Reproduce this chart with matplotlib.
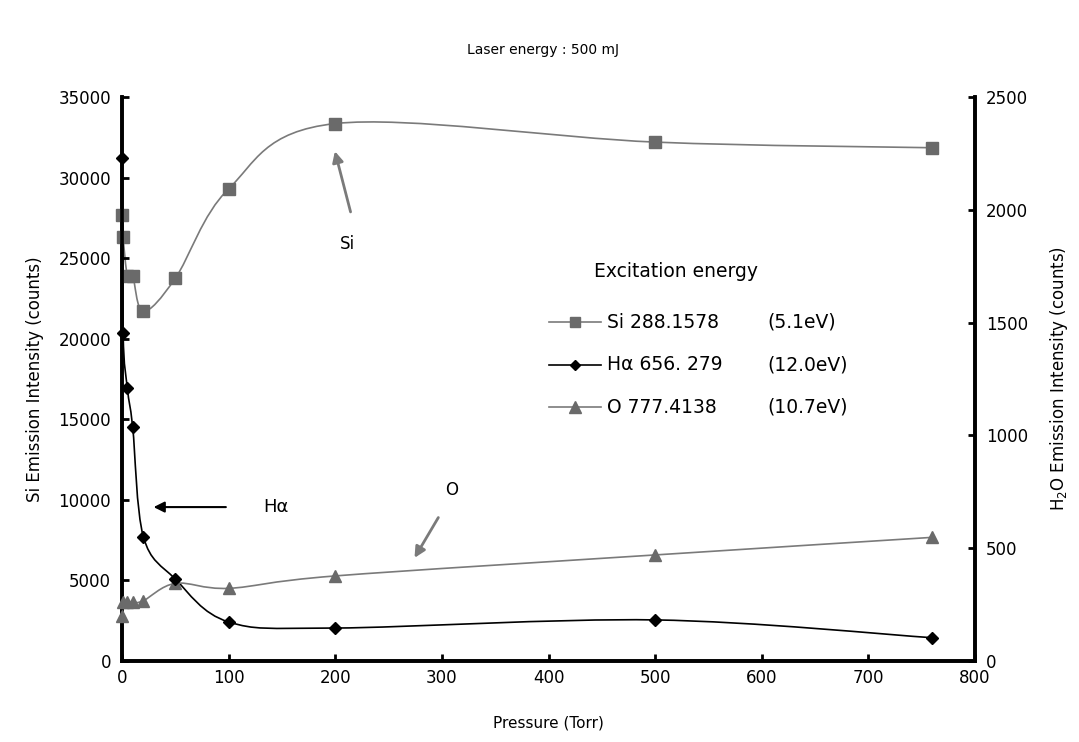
import numpy as np
import matplotlib.pyplot as plt
from matplotlib.path import Path
from matplotlib.patches import PathPatch

plt.rcParams['font.family'] = ['DejaVu Sans']

# pressure (Torr) for each measurement
pressure = [0.1, 1, 5, 10, 20, 50, 100, 200, 500, 760]
si_counts = [27700, 26300, 23900, 23900, 21700, 23750, 29300, 33350, 32200, 31850]
ha_counts = [2230, 1453, 1209, 1036, 551, 363, 173, 146, 182, 103]
o_counts = [199, 262, 263, 260, 267, 344, 322, 377, 470, 548]

x_ticks = [0, 100, 200, 300, 400, 500, 600, 700, 800]
left_ticks = [0, 5000, 10000, 15000, 20000, 25000, 30000, 35000]
right_ticks = [0, 500, 1000, 1500, 2000, 2500]

legend_names = ['Si 288.1578', 'H\u03b1 656. 279', 'O 777.4138']
legend_energy = ['(5.1eV)', '(12.0eV)', '(10.7eV)']

GREY = '#7a7a7a'
MARK_GREY = '#6a6a6a'


def smooth_path(xs, ys):
    # excel-like smoothed line: cubic bezier through every point
    pts = np.column_stack([xs, ys]).astype(float)
    n = len(pts)
    verts = [pts[0]]
    codes = [Path.MOVETO]
    for i in range(n - 1):
        p0 = pts[max(i - 1, 0)]
        p1 = pts[i]
        p2 = pts[i + 1]
        p3 = pts[min(i + 2, n - 1)]
        c1 = p1 + (p2 - p0) / 6.0
        c2 = p2 - (p3 - p1) / 6.0
        verts += [c1, c2, p2]
        codes += [Path.CURVE4] * 3
    return Path(verts, codes)


def main():
    fig = plt.figure(figsize=(10.79, 7.42), dpi=100)
    ax = fig.add_axes([0.1131, 0.1092, 0.7905, 0.7601])
    ax2 = ax.twinx()

    ax.add_patch(PathPatch(smooth_path(pressure, si_counts), fc='none', ec=GREY, lw=1.2))
    ax.plot(pressure, si_counts, ls='none', marker='s', ms=8, color=MARK_GREY, clip_on=False, zorder=4)

    ax2.add_patch(PathPatch(smooth_path(pressure, ha_counts), fc='none', ec='black', lw=1.2))
    ax2.add_patch(PathPatch(smooth_path(pressure, o_counts), fc='none', ec=GREY, lw=1.2))
    ax2.plot(pressure, o_counts, ls='none', marker='^', ms=9, color=MARK_GREY, clip_on=False, zorder=4)
    ax2.plot(pressure, ha_counts, ls='none', marker='D', ms=6.5, color='black', clip_on=False, zorder=5)

    ax.set_xlim(0, 800)
    ax.set_ylim(0, 35000)
    ax2.set_ylim(0, 2500)
    ax.set_xticks(x_ticks)
    ax.set_yticks(left_ticks)
    ax2.set_yticks(right_ticks)

    for a in (ax, ax2):
        a.spines['top'].set_visible(False)
        for s in ('left', 'right', 'bottom'):
            a.spines[s].set_linewidth(2.6)
        a.tick_params(direction='in', length=5, width=2, labelsize=12, pad=8)
    ax.tick_params(axis='x', pad=6)

    ax.set_xlabel('Pressure (Torr)', fontsize=11, labelpad=20)
    ax.set_ylabel('Si Emission Intensity (counts)', fontsize=12, labelpad=10)
    ax2.set_ylabel('H$_2$O Emission Intensity (counts)', fontsize=12, labelpad=14)
    fig.text(0.503, 0.932, 'Laser energy : 500 mJ', ha='center', va='center', fontsize=10)

    # annotations
    ax.annotate('', xy=(199, 31800), xytext=(215, 27700),
                arrowprops=dict(arrowstyle='-|>', color=GREY, lw=2, mutation_scale=16))
    ax.text(211, 25900, 'Si', fontsize=12, ha='center', va='center')
    ax.annotate('', xy=(27, 9550), xytext=(100, 9550),
                arrowprops=dict(arrowstyle='-|>', color='black', lw=1.5, mutation_scale=16))
    ax.text(132, 9550, 'H\u03b1', fontsize=13, ha='left', va='center')
    ax.annotate('', xy=(273, 6250), xytext=(298, 9050),
                arrowprops=dict(arrowstyle='-|>', color=GREY, lw=2, mutation_scale=16))
    ax.text(309, 10600, 'O', fontsize=12, ha='center', va='center')

    # legend drawn by hand in axes fraction
    ax.text(0.553, 0.691, 'Excitation energy', transform=ax.transAxes, fontsize=13.5, va='center')
    styles = [dict(color=GREY, mfc=MARK_GREY, mec=MARK_GREY, marker='s', ms=7),
              dict(color='black', marker='D', ms=5.5),
              dict(color=GREY, mfc=MARK_GREY, mec=MARK_GREY, marker='^', ms=8)]
    ys = [0.601, 0.525, 0.450]
    for name, energy, st, yy in zip(legend_names, legend_energy, styles, ys):
        ax.plot([0.5, 0.562], [yy, yy], transform=ax.transAxes, lw=1.2, color=st['color'])
        ax.plot([0.531], [yy], transform=ax.transAxes, ls='none',
                **{k: v for k, v in st.items() if k != 'color'}, color=st['color'])
        ax.text(0.569, yy, name, transform=ax.transAxes, fontsize=13.5, va='center')
        ax.text(0.757, yy, energy, transform=ax.transAxes, fontsize=13.5, va='center')

    fig.savefig('out.png', dpi=100)


if __name__ == '__main__':
    main()
